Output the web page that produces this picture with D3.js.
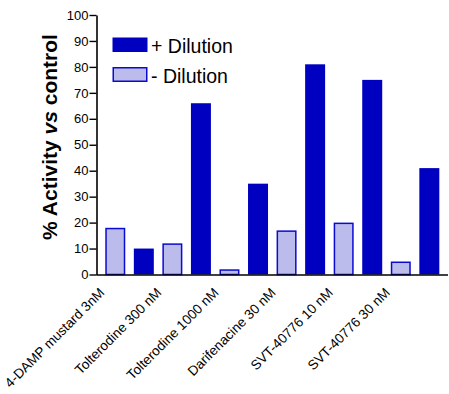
<!DOCTYPE html>
<html><head><meta charset="utf-8">
<script src="https://cdn.jsdelivr.net/npm/d3@7"></script>
<style>body{margin:0;background:#fff}svg{display:block}text{font-family:Arial,"Liberation Sans",sans-serif}</style>
</head><body>
<svg id="c" width="449" height="394"></svg>
<script>
const categories = ["4-DAMP mustard 3nM","Tolterodine 300 nM","Tolterodine 1000 nM","Darifenacine 30 nM","SVT-40776 10 nM","SVT-40776 30 nM"];
const minusDilution = [18, 12, 2, 17, 20, 5];
const plusDilution = [10, 66, 35, 81, 75, 41];
const yTicks = [0,10,20,30,40,50,60,70,80,90,100];
const seriesNames = ["+ Dilution","- Dilution"];

const svg = d3.select("#c");
const m = {left: 96.5, right: 449, top: 15, bottom: 274.5};
const slots = d3.range(categories.length * 2);
const x = d3.scaleBand().domain(slots).range([97, 447.6]).paddingInner(0.3).paddingOuter(0.29);
const y = d3.scaleLinear().domain([0, 100]).range([m.bottom, m.top]);

const bars = [];
categories.forEach((c, i) => {
  bars.push({slot: 2*i, v: minusDilution[i], s: "minus"});
  bars.push({slot: 2*i+1, v: plusDilution[i], s: "plus"});
});

const dark = "#0000C0", light = "#BCBCEC", lstroke = "#0A0AD0";
svg.append("g").selectAll("rect").data(bars).join("rect")
  .attr("x", d => d.s === "minus" ? x(d.slot) + 0.75 : x(d.slot))
  .attr("width", d => d.s === "minus" ? x.bandwidth() - 1.5 : x.bandwidth())
  .attr("y", d => d.s === "minus" ? y(d.v) + 0.75 : y(d.v))
  .attr("height", d => d.s === "minus" ? y(0) - y(d.v) - 0.75 : y(0) - y(d.v))
  .attr("fill", d => d.s === "minus" ? light : dark)
  .attr("stroke", d => d.s === "minus" ? lstroke : "none")
  .attr("stroke-width", 1.5);

// y axis
const ya = svg.append("g").attr("transform", `translate(${m.left},0)`)
  .call(d3.axisLeft(y).tickValues(yTicks).tickSize(7).tickPadding(1).tickSizeOuter(0));
ya.select(".domain").attr("stroke-width", 1.6);
ya.selectAll(".tick line").attr("stroke-width", 1.4);
ya.selectAll("text").attr("font-size", 13).attr("font-family", "Arial, 'Liberation Sans', sans-serif").attr("fill", "#000");

// x axis
const xa = svg.append("g").attr("transform", `translate(0,${m.bottom})`)
  .call(d3.axisBottom(x).tickValues([]).tickSize(0).tickSizeOuter(0));
xa.select(".domain").attr("d", `M${m.left},0.5H448`).attr("stroke-width", 1.6);

svg.append("g").selectAll("text").data(categories).join("text")
  .attr("transform", (d, i) => `translate(${x(2*i) + x.bandwidth()/2 - 10},${m.bottom + 19}) rotate(-45)`)
  .attr("text-anchor", "end")
  .attr("font-size", 13.6)
  .text(d => d);

// y title
const t = svg.append("text")
  .attr("transform", "translate(57,137) rotate(-90)")
  .attr("text-anchor", "middle")
  .attr("font-size", 21)
  .attr("font-weight", "bold");
t.append("tspan").text("% Activity ");
t.append("tspan").attr("font-style", "italic").text("vs");
t.append("tspan").text(" control");

// legend
const lg = svg.append("g");
const leg = [{n: seriesNames[0], s: "plus"}, {n: seriesNames[1], s: "minus"}];
leg.forEach((d, i) => {
  const yy = 37.5 + i * 30;
  if (d.s === "plus") {
    lg.append("rect").attr("x", 112.5).attr("y", yy).attr("width", 35).attr("height", 14.5).attr("fill", dark);
  } else {
    lg.append("rect").attr("x", 113.25).attr("y", yy + 0.25).attr("width", 33.5).attr("height", 13.5).attr("fill", light).attr("stroke", lstroke).attr("stroke-width", 1.5);
  }
  lg.append("text").attr("x", 151).attr("y", yy + 15.5).attr("font-size", 19.5).text(d.n);
});
</script>
</body></html>
